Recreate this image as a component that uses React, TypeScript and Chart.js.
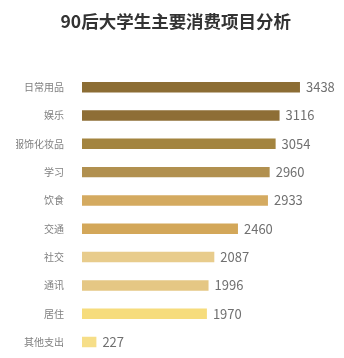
import React, { useEffect, useRef } from "react";
import { Chart, registerables } from "chart.js";

Chart.register(...registerables);

const TITLE = "90后大学生主要消费项目分析";
const categories = ["日常用品", "娱乐", "服饰化妆品", "学习", "饮食", "交通", "社交", "通讯", "居住", "其他支出"];
const values = [3438, 3116, 3054, 2960, 2933, 2460, 2087, 1996, 1970, 227];
const barColors = ["#8c6d34", "#8e6e36", "#a3843f", "#b1904f", "#d4aa60", "#d3a759", "#e8cc8c", "#e5c784", "#f6dc7c", "#f6de88"];
const X_MAX = 4000;

const FONT = "'Noto Sans CJK SC', 'Noto Sans', sans-serif";

const valueLabels = {
  id: "valueLabels",
  afterDatasetsDraw(chart: any) {
    const ctx = chart.ctx;
    const meta = chart.getDatasetMeta(0);
    ctx.save();
    ctx.font = `13px ${FONT}`;
    ctx.fillStyle = "#707070";
    ctx.textAlign = "left";
    ctx.textBaseline = "middle";
    meta.data.forEach((bar: any, i: number) => {
      ctx.fillText(String(values[i]), bar.x + 6, bar.y);
    });
    ctx.restore();
  },
};

export default function App() {
  const ref = useRef<HTMLCanvasElement>(null);
  useEffect(() => {
    document.body.style.margin = "0";
    const chart = new Chart(ref.current!, {
      type: "bar",
      data: {
        labels: categories,
        datasets: [
          {
            data: values,
            backgroundColor: barColors,
            barPercentage: 0.37,
            categoryPercentage: 1,
          },
        ],
      },
      options: {
        indexAxis: "y",
        animation: false,
        responsive: false,
        layout: { padding: { left: 16, right: 8.4, top: 0, bottom: 1.8 } },
        plugins: {
          legend: { display: false },
          tooltip: { enabled: false },
          title: {
            display: true,
            text: TITLE,
            color: "#333333",
            font: { family: FONT, size: 17.5, weight: "bold" },
            padding: { top: 11, bottom: 41 },
          },
        },
        scales: {
          x: { display: false, min: 0, max: X_MAX },
          y: {
            grid: { display: false },
            border: { display: false },
            ticks: {
              color: "#808080",
              font: { family: FONT, size: 10 },
              padding: 10,
            },
            afterFit(scale: any) {
              scale.width = 66;
              scale.paddingTop = 0;
              scale.paddingBottom = 0;
            },
          },
        },
      },
      plugins: [valueLabels],
    } as any);
    return () => chart.destroy();
  }, []);
  return (
    <div style={{ width: 344, height: 358, background: "#fff" }}>
      <canvas ref={ref} width={344} height={358} style={{ display: "block" }} />
    </div>
  );
}
